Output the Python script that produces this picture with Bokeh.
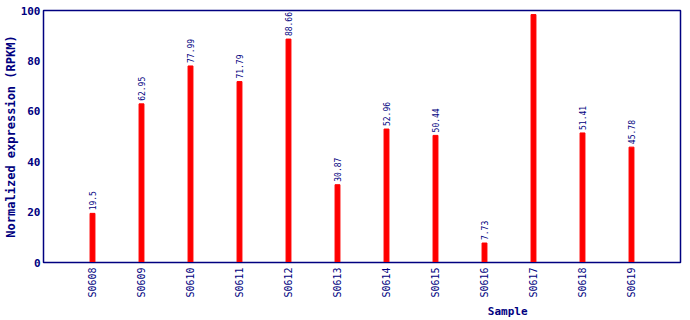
import math
from bokeh.plotting import figure
from bokeh.models import ColumnDataSource, FactorRange, Range1d, LabelSet
from bokeh.core.properties import value
from bokeh.embed import file_html
from bokeh.resources import INLINE

samples = ["S0608", "S0609", "S0610", "S0611", "S0612", "S0613",
           "S0614", "S0615", "S0616", "S0617", "S0618", "S0619"]
values = [19.5, 62.95, 77.99, 71.79, 88.66, 30.87,
          52.96, 50.44, 7.73, 98.38, 51.41, 45.78]
y_ticks = [0, 20, 40, 60, 80, 100]

NAVY = "#000080"
MONO = "DejaVu Sans Mono"

src = ColumnDataSource(dict(
    x=samples,
    top=values,
    lab=[("%g" % v) for v in values],
))

p = figure(
    width=690, height=320,
    x_range=FactorRange(factors=samples, range_padding=1.0 / 12, range_padding_units="percent"),
    y_range=Range1d(0, 100),
    output_backend="svg", toolbar_location=None,
    min_border_left=10, min_border_right=10, min_border_top=10, min_border_bottom=10,
)
p.outline_line_color = NAVY
p.outline_line_width = 1.5
p.xgrid.visible = False
p.ygrid.visible = False

p.vbar(x="x", top="top", width=0.1, color="#ff0000", source=src)

labels = LabelSet(x="x", y="top", text="lab", source=src, angle=math.pi / 2,
                  text_align="left", text_baseline="middle", y_offset=3,
                  text_font=value(MONO), text_font_size="8px", text_color=NAVY)
p.add_layout(labels)

# y axis
p.yaxis.ticker = y_ticks
p.yaxis.axis_line_color = NAVY
p.yaxis.major_tick_line_color = None
p.yaxis.minor_tick_line_color = None
p.yaxis.major_tick_out = 0
p.yaxis.major_tick_in = 0
p.yaxis.minor_tick_out = 0
p.yaxis.major_label_text_font = MONO
p.yaxis.major_label_text_font_style = "bold"
p.yaxis.major_label_text_font_size = "11px"
p.yaxis.major_label_text_color = NAVY
p.yaxis.major_label_standoff = 3
p.yaxis.axis_label = "Normalized expression (RPKM)"
p.yaxis.axis_label_text_font = MONO
p.yaxis.axis_label_text_font_style = "bold"
p.yaxis.axis_label_text_font_size = "12px"
p.yaxis.axis_label_text_color = NAVY
p.yaxis.axis_label_text_line_height = 0.75
p.yaxis.axis_label_standoff = 0

# x axis
p.xaxis.axis_line_color = NAVY
p.xaxis.major_tick_line_color = None
p.xaxis.minor_tick_line_color = None
p.xaxis.major_tick_out = 0
p.xaxis.major_tick_in = 0
p.xaxis.minor_tick_out = 0
p.xaxis.major_label_orientation = math.pi / 2
p.xaxis.major_label_text_font = MONO
p.xaxis.major_label_text_font_size = "10px"
p.xaxis.major_label_text_color = NAVY
p.xaxis.major_label_standoff = 5
p.xaxis.axis_label = "\u00a0" * 44 + "Sample"
p.xaxis.axis_label_text_font = MONO
p.xaxis.axis_label_text_font_style = "bold"
p.xaxis.axis_label_text_font_size = "11px"
p.xaxis.axis_label_text_color = NAVY
p.xaxis.axis_label_standoff = 4

open("out.html", "w").write(file_html(p, INLINE))
